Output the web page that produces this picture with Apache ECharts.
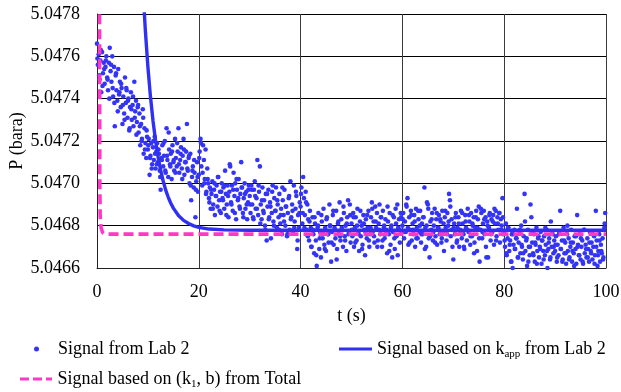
<!DOCTYPE html>
<html>
<head>
<meta charset="utf-8">
<script src="https://cdn.jsdelivr.net/npm/echarts@6/dist/echarts.min.js"></script>
<style>
  html, body { margin: 0; padding: 0; background: #fff; }
  #chart { width: 621px; height: 392px; }
  #fontprobe { position: absolute; left: -1000px; top: 0; font-family: "Liberation Serif"; font-size: 18px; }
</style>
</head>
<body>
<div id="fontprobe">Signal 5.0478 P (bara)</div>
<div id="chart"></div>
<script>
// ---------- DATA ----------
const xTicks = [0, 20, 40, 60, 80, 100];
const yTicks = [5.0466, 5.0468, 5.0470, 5.0472, 5.0474, 5.0476, 5.0478];

// Measured signal "Signal from Lab 2": 60 samples per 10 s block (every 1/6 s)
const sig_00_10 = [5.04766,5.04756,5.04761,5.04749,5.04758,5.04743,5.04762,5.04752,5.04757,5.04747,
5.04755,5.04760,5.04750,5.04744,5.04757,5.04764,5.04753,5.04748,5.04760,5.04741,
5.04755,5.04727,5.04751,5.04744,5.04739,5.04754,5.04742,5.04748,5.04736,5.04745,
5.04728,5.04741,5.04733,5.04750,5.04738,5.04744,5.04731,5.04740,5.04725,5.04736,
5.04743,5.04730,5.04737,5.04727,5.04748,5.04734,5.04739,5.04729,5.04736,5.04724,
5.04733,5.04718,5.04728,5.04721,5.04735,5.04714,5.04726,5.04719,5.04712,5.04722];
const sig_10_20 = [5.04716,5.04721,5.04704,5.04713,5.04719,5.04709,5.04717,5.04711,5.04722,5.04707,
5.04715,5.04719,5.04710,5.04714,5.04706,5.04697,5.04712,5.04718,5.04708,5.04713,
5.04720,5.04705,5.04726,5.04711,5.04703,5.04716,5.04709,5.04714,5.04702,5.04718,
5.04710,5.04706,5.04721,5.04712,5.04708,5.04715,5.04726,5.04705,5.04711,5.04717,
5.04707,5.04713,5.04721,5.04704,5.04710,5.04715,5.04728,5.04706,5.04712,5.04700,
5.04714,5.04692,5.04703,5.04708,5.04698,5.04705,5.04684,5.04701,5.04710,5.04696];
const sig_20_30 = [5.04704,5.04715,5.04721,5.04708,5.04699,5.04718,5.04711,5.04702,5.04716,5.04696,
5.04707,5.04700,5.04693,5.04698,5.04688,5.04695,5.04701,5.04690,5.04697,5.04685,
5.04694,5.04699,5.04689,5.04703,5.04692,5.04696,5.04686,5.04700,5.04693,5.04698,
5.04688,5.04706,5.04695,5.04690,5.04699,5.04684,5.04696,5.04708,5.04691,5.04699,
5.04687,5.04705,5.04694,5.04700,5.04683,5.04697,5.04692,5.04702,5.04689,5.04695,
5.04710,5.04698,5.04686,5.04693,5.04700,5.04688,5.04696,5.04683,5.04691,5.04699];
const sig_30_40 = [5.04694,5.04686,5.04699,5.04690,5.04684,5.04697,5.04701,5.04688,5.04693,5.04711,
5.04685,5.04696,5.04708,5.04690,5.04683,5.04698,5.04687,5.04692,5.04680,5.04695,
5.04673,5.04689,5.04697,5.04684,5.04691,5.04674,5.04686,5.04699,5.04682,5.04693,
5.04687,5.04698,5.04679,5.04690,5.04684,5.04695,5.04681,5.04688,5.04676,5.04692,
5.04685,5.04697,5.04680,5.04689,5.04675,5.04686,5.04693,5.04678,5.04701,5.04684,
5.04690,5.04677,5.04699,5.04682,5.04688,5.04694,5.04669,5.04685,5.04679,5.04691];
const sig_40_50 = [5.04689,5.04698,5.04681,5.04703,5.04693,5.04685,5.04696,5.04678,5.04690,5.04683,
5.04673,5.04687,5.04679,5.04670,5.04684,5.04676,5.04667,5.04681,5.04673,5.04661,
5.04679,5.04686,5.04669,5.04677,5.04665,5.04682,5.04674,5.04688,5.04671,5.04679,
5.04668,5.04684,5.04676,5.04672,5.04690,5.04680,5.04663,5.04677,5.04685,5.04671,
5.04679,5.04674,5.04687,5.04669,5.04681,5.04676,5.04691,5.04673,5.04683,5.04678,
5.04670,5.04686,5.04675,5.04680,5.04668,5.04684,5.04692,5.04677,5.04690,5.04672];
const sig_50_60 = [5.04681,5.04675,5.04686,5.04670,5.04679,5.04684,5.04673,5.04688,5.04677,5.04668,
5.04682,5.04675,5.04680,5.04671,5.04685,5.04678,5.04666,5.04683,5.04674,5.04679,
5.04687,5.04670,5.04676,5.04684,5.04691,5.04677,5.04682,5.04672,5.04689,5.04679,
5.04686,5.04673,5.04681,5.04690,5.04676,5.04684,5.04670,5.04687,5.04679,5.04674,
5.04683,5.04678,5.04667,5.04682,5.04676,5.04686,5.04671,5.04680,5.04665,5.04677,
5.04684,5.04669,5.04688,5.04675,5.04690,5.04679,5.04683,5.04672,5.04686,5.04677];
const sig_60_70 = [5.04680,5.04686,5.04674,5.04682,5.04677,5.04689,5.04693,5.04671,5.04684,5.04678,
5.04687,5.04673,5.04681,5.04676,5.04685,5.04670,5.04688,5.04679,5.04674,5.04683,
5.04677,5.04687,5.04672,5.04681,5.04676,5.04684,5.04698,5.04679,5.04670,5.04691,
5.04690,5.04674,5.04665,5.04682,5.04678,5.04686,5.04673,5.04680,5.04688,5.04675,
5.04683,5.04671,5.04679,5.04685,5.04676,5.04682,5.04672,5.04687,5.04677,5.04668,
5.04684,5.04679,5.04673,5.04686,5.04680,5.04695,5.04692,5.04675,5.04683,5.04670];
const sig_70_80 = [5.04664,5.04681,5.04676,5.04686,5.04672,5.04679,5.04684,5.04670,5.04678,5.04687,
5.04674,5.04681,5.04676,5.04669,5.04685,5.04679,5.04673,5.04688,5.04677,5.04682,
5.04671,5.04686,5.04675,5.04680,5.04684,5.04672,5.04679,5.04687,5.04668,5.04683,
5.04689,5.04663,5.04678,5.04686,5.04674,5.04681,5.04687,5.04676,5.04684,5.04665,
5.04682,5.04665,5.04679,5.04686,5.04673,5.04683,5.04677,5.04685,5.04671,5.04681,
5.04687,5.04675,5.04684,5.04678,5.04686,5.04672,5.04683,5.04680,5.04693,5.04676];
const sig_80_90 = [5.04677,5.04670,5.04681,5.04666,5.04674,5.04679,5.04668,5.04673,5.04663,5.04676,
5.04660,5.04671,5.04678,5.04669,5.04674,5.04688,5.04665,5.04672,5.04677,5.04667,
5.04680,5.04670,5.04664,5.04675,5.04695,5.04668,5.04673,5.04661,5.04678,5.04670,
5.04666,5.04690,5.04684,5.04672,5.04667,5.04676,5.04663,5.04671,5.04679,5.04668,
5.04674,5.04665,5.04670,5.04677,5.04662,5.04673,5.04668,5.04675,5.04666,5.04671,
5.04678,5.04660,5.04669,5.04674,5.04664,5.04682,5.04670,5.04676,5.04667,5.04673];
const sig_90_100 = [5.04668,5.04675,5.04663,5.04671,5.04666,5.04677,5.04687,5.04669,5.04673,5.04664,
5.04679,5.04667,5.04672,5.04662,5.04676,5.04668,5.04674,5.04665,5.04670,5.04678,
5.04663,5.04672,5.04667,5.04675,5.04669,5.04662,5.04685,5.04671,5.04666,5.04676,
5.04664,5.04670,5.04673,5.04662,5.04678,5.04667,5.04671,5.04665,5.04674,5.04669,
5.04663,5.04677,5.04668,5.04672,5.04664,5.04670,5.04675,5.04666,5.04687,5.04673,
5.04661,5.04668,5.04676,5.04663,5.04671,5.04667,5.04674,5.04665,5.04679,5.04686];

// Further samples of the same signal, 30 per 10 s block, interleaved between the ones above
const sup_00_10 = [5.04759,5.04751,5.04763,5.04746,5.04754,5.04758,5.04749,5.04740,5.04756,5.04745,
5.04738,5.04752,5.04734,5.04743,5.04747,5.04737,5.04730,5.04745,5.04739,5.04726,
5.04735,5.04741,5.04731,5.04723,5.04737,5.04727,5.04720,5.04731,5.04716,5.04725];
const sup_10_20 = [5.04718,5.04712,5.04707,5.04720,5.04714,5.04709,5.04716,5.04703,5.04711,5.04719,
5.04706,5.04713,5.04724,5.04708,5.04715,5.04711,5.04705,5.04719,5.04709,5.04714,
5.04702,5.04716,5.04710,5.04707,5.04713,5.04699,5.04706,5.04711,5.04697,5.04703];
const sup_20_30 = [5.04712,5.04719,5.04705,5.04700,5.04695,5.04702,5.04691,5.04697,5.04688,5.04700,
5.04694,5.04703,5.04687,5.04696,5.04692,5.04699,5.04685,5.04694,5.04709,5.04690,
5.04697,5.04686,5.04702,5.04693,5.04688,5.04698,5.04684,5.04695,5.04690,5.04697];
const sup_30_40 = [5.04690,5.04697,5.04683,5.04694,5.04688,5.04699,5.04681,5.04692,5.04686,5.04678,
5.04695,5.04683,5.04689,5.04696,5.04680,5.04687,5.04692,5.04678,5.04685,5.04698,
5.04682,5.04689,5.04676,5.04694,5.04683,5.04687,5.04679,5.04696,5.04673,5.04686];
const sup_40_50 = [5.04695,5.04686,5.04679,5.04691,5.04675,5.04682,5.04670,5.04678,5.04684,5.04666,
5.04680,5.04674,5.04685,5.04677,5.04669,5.04683,5.04676,5.04680,5.04672,5.04687,
5.04678,5.04664,5.04682,5.04675,5.04679,5.04689,5.04673,5.04681,5.04676,5.04685];
const sup_50_60 = [5.04678,5.04684,5.04672,5.04680,5.04676,5.04687,5.04669,5.04681,5.04677,5.04685,
5.04673,5.04679,5.04688,5.04675,5.04682,5.04670,5.04678,5.04684,5.04673,5.04680,
5.04676,5.04689,5.04668,5.04679,5.04685,5.04674,5.04681,5.04666,5.04678,5.04684];
const sup_60_70 = [5.04683,5.04677,5.04690,5.04679,5.04672,5.04685,5.04678,5.04682,5.04674,5.04687,
5.04680,5.04676,5.04684,5.04669,5.04680,5.04688,5.04675,5.04683,5.04677,5.04672,
5.04686,5.04679,5.04683,5.04674,5.04681,5.04687,5.04676,5.04682,5.04689,5.04678];
const sup_70_80 = [5.04679,5.04684,5.04673,5.04681,5.04677,5.04686,5.04670,5.04682,5.04678,5.04685,
5.04675,5.04681,5.04667,5.04684,5.04679,5.04674,5.04688,5.04677,5.04683,5.04670,
5.04680,5.04685,5.04676,5.04682,5.04688,5.04673,5.04681,5.04686,5.04678,5.04684];
const sup_80_90 = [5.04673,5.04667,5.04679,5.04671,5.04663,5.04676,5.04669,5.04674,5.04665,5.04678,
5.04671,5.04667,5.04682,5.04674,5.04663,5.04670,5.04677,5.04666,5.04672,5.04662,
5.04675,5.04669,5.04673,5.04664,5.04679,5.04668,5.04672,5.04665,5.04677,5.04670];
const sup_90_100 = [5.04671,5.04665,5.04676,5.04669,5.04663,5.04673,5.04667,5.04680,5.04664,5.04672,
5.04668,5.04661,5.04675,5.04670,5.04666,5.04674,5.04663,5.04678,5.04669,5.04665,
5.04672,5.04667,5.04676,5.04662,5.04670,5.04666,5.04673,5.04668,5.04664,5.04681];

const blockStarts = [0, 10, 20, 30, 40, 50, 60, 70, 80, 90];
const signalBlocks = [sig_00_10, sig_10_20, sig_20_30, sig_30_40, sig_40_50,
                      sig_50_60, sig_60_70, sig_70_80, sig_80_90, sig_90_100];
const extraBlocks = [sup_00_10, sup_10_20, sup_20_30, sup_30_40, sup_40_50,
                     sup_50_60, sup_60_70, sup_70_80, sup_80_90, sup_90_100];

// Model curve "Signal based on k_app from Lab 2" (t, P)
const kappT = [8.5, 9, 9.5, 10, 10.5, 11, 11.5, 12, 12.5, 13, 13.5, 14, 14.5, 15, 16, 17, 18, 19, 20, 22, 25, 30, 100];
const kappP = [5.048185, 5.04793, 5.047721, 5.04755, 5.04741, 5.047296, 5.047202, 5.047125, 5.047062,
               5.047011, 5.046968, 5.046934, 5.046906, 5.046883, 5.046848, 5.046825, 5.04681,
               5.046799, 5.046792, 5.046784, 5.04678, 5.046778, 5.046778];

// Model curve "Signal based on (k1, b) from Total" (t, P)
const totT = [0.45, 0.5, 0.55, 0.62, 0.8, 1.1, 1.6, 100];
const totP = [5.0495, 5.0478, 5.0470, 5.04685, 5.04679, 5.046768, 5.04676, 5.04676];

const seriesNames = ['Signal from Lab 2', 'Signal based on kapp from Lab 2', 'Signal based on (k1, b) from Total'];

// ---------- BUILD ----------
const scatterData = [];
signalBlocks.forEach((blk, b) => {
  const step = 10 / blk.length;
  blk.forEach((p, i) => scatterData.push([blockStarts[b] + i * step, p]));
});
extraBlocks.forEach((blk, b) => {
  const step = 10 / blk.length;
  blk.forEach((p, i) => scatterData.push([blockStarts[b] + (i + 0.25) * step, p]));
});
const kappData = kappT.map((t, i) => [t, kappP[i]]);
const totData = totT.map((t, i) => [t, totP[i]]);

const SERIF = '"Liberation Serif", "Times New Roman", Times, serif';
const FS = 18;
const BLUE_DOT = '#3434f6';
const BLUE_LINE = '#3030f2';
const PINK = '#ff38c8';

const rich = {
  n: { fontFamily: SERIF, fontSize: FS, color: '#000', lineHeight: 22, verticalAlign: 'middle' },
  sub: { fontFamily: SERIF, fontSize: 11, color: '#000', lineHeight: 11, verticalAlign: 'bottom' }
};
function legendFmt(name) {
  if (name === seriesNames[1]) return '{n|Signal based on k}{sub|app}{n| from Lab 2}';
  if (name === seriesNames[2]) return '{n|Signal based on (k}{sub|1}{n|, b) from Total}';
  return '{n|' + name + '}';
}
const legendBase = {
  orient: 'horizontal', padding: 0, itemGap: 0, selectedMode: false,
  formatter: legendFmt,
  textStyle: { fontFamily: SERIF, fontSize: FS, color: '#000', rich: rich }
};

function draw() {
  const chart = echarts.init(document.getElementById('chart'), null, { renderer: 'canvas' });
  chart.setOption({
    animation: false,
    backgroundColor: '#fff',
    textStyle: { fontFamily: SERIF },
    grid: { left: 97, top: 14, right: 15, bottom: 124, containLabel: false, outerBoundsMode: 'none' },
    legend: [
      Object.assign({}, legendBase, { left: 34, top: 340, itemWidth: 33, itemHeight: 5,
        data: [{ name: seriesNames[0], icon: 'circle' }] }),
      Object.assign({}, legendBase, { left: 339, top: 340, itemWidth: 33, itemHeight: 3,
        data: [{ name: seriesNames[1], icon: 'rect' }] }),
      Object.assign({}, legendBase, { left: 20, top: 370, itemWidth: 33, itemHeight: 3,
        data: [{ name: seriesNames[2], icon: 'path://M0,0h9v3h-9z M13,0h9v3h-9z M26,0h6v3h-6z' }] })
    ],
    xAxis: {
      type: 'value', min: xTicks[0], max: xTicks[xTicks.length - 1], interval: 20,
      name: 't (s)', nameLocation: 'middle', nameGap: 39, nameMoveOverlap: false,
      nameTextStyle: { fontFamily: SERIF, fontSize: FS, color: '#000' },
      axisLine: { show: true, lineStyle: { color: '#222', width: 1 } },
      axisTick: { show: false },
      axisLabel: { margin: 15, fontFamily: SERIF, fontSize: FS, color: '#000' },
      splitLine: { show: true, lineStyle: { color: '#3a3a3a', width: 1 } }
    },
    yAxis: {
      type: 'value', min: yTicks[0], max: yTicks[yTicks.length - 1], interval: 0.0002,
      name: 'P (bara)', nameLocation: 'middle', nameGap: 71, nameRotate: 90, nameMoveOverlap: false,
      nameTextStyle: { fontFamily: SERIF, fontSize: FS, color: '#000' },
      axisLine: { show: true, lineStyle: { color: '#222', width: 1 } },
      axisTick: { show: false },
      axisLabel: { margin: 17, fontFamily: SERIF, fontSize: FS, color: '#000',
                   formatter: v => v.toFixed(4) },
      splitLine: { show: true, lineStyle: { color: '#000', width: 1 } }
    },
    series: [
      {
        name: seriesNames[0], type: 'scatter', data: scatterData,
        symbol: 'circle', symbolSize: 4.6,
        itemStyle: { color: BLUE_DOT, opacity: 1 }
      },
      {
        name: seriesNames[1], type: 'line', data: kappData, symbol: 'none',
        showSymbol: false, clip: true,
        lineStyle: { color: BLUE_LINE, width: 3.4 }, itemStyle: { color: BLUE_LINE }
      },
      {
        name: seriesNames[2], type: 'line', data: totData, symbol: 'none',
        showSymbol: false, clip: true,
        lineStyle: { color: PINK, width: 3.6, type: [10, 5] }, itemStyle: { color: PINK }
      }
    ]
  });
}

if (document.fonts && document.fonts.load) {
  Promise.all([
    document.fonts.load('18px "Liberation Serif"'),
    document.fonts.load('11px "Liberation Serif"')
  ]).then(draw, draw);
} else {
  draw();
}
</script>
</body>
</html>
